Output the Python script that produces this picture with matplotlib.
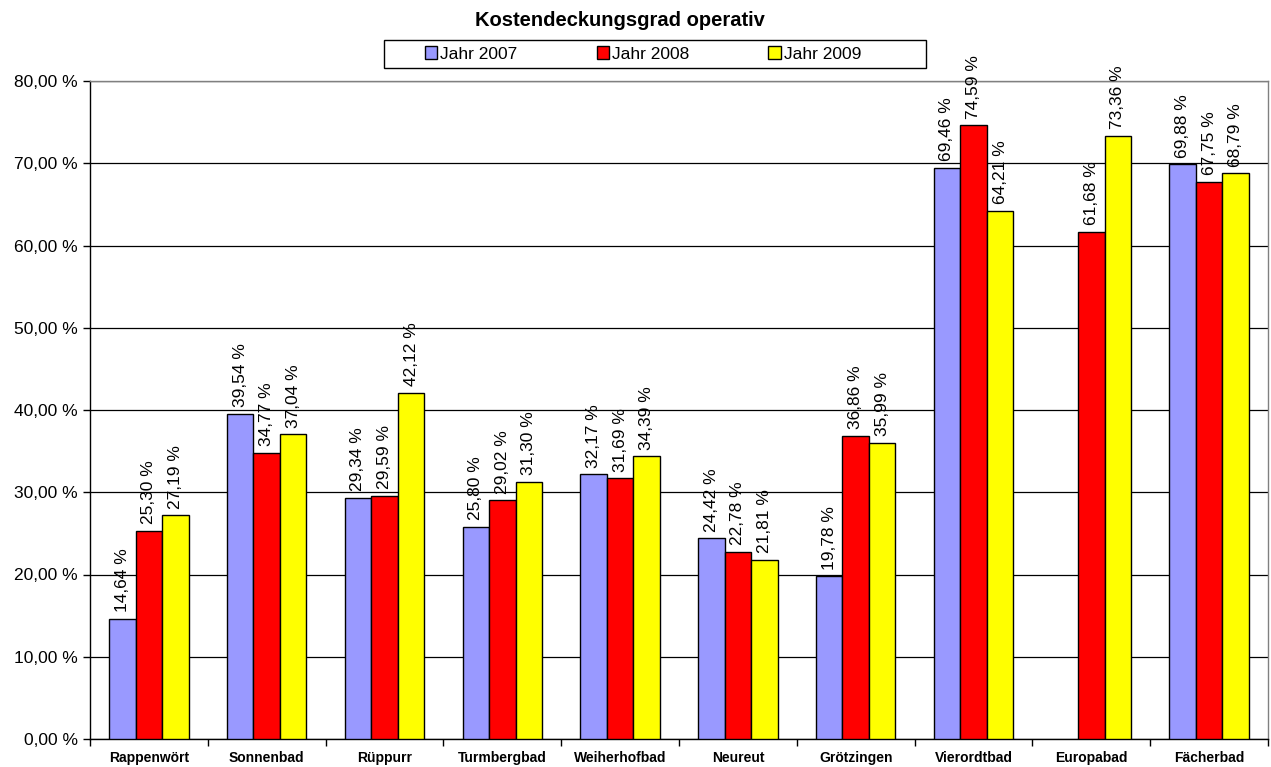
import numpy as np
import matplotlib
matplotlib.use("Agg")
import matplotlib.pyplot as plt
from matplotlib.ticker import FixedLocator
from matplotlib.patches import Rectangle

categories = ["Rappenwört", "Sonnenbad", "Rüppurr", "Turmbergbad", "Weiherhofbad",
              "Neureut", "Grötzingen", "Vierordtbad", "Europabad", "Fächerbad"]
jahr_2007 = [14.64, 39.54, 29.34, 25.80, 32.17, 24.42, 19.78, 69.46, np.nan, 69.88]
jahr_2008 = [25.30, 34.77, 29.59, 29.02, 31.69, 22.78, 36.86, 74.59, 61.68, 67.75]
jahr_2009 = [27.19, 37.04, 42.12, 31.30, 34.39, 21.81, 35.99, 64.21, 73.36, 68.79]
series = [("Jahr 2007", jahr_2007, "#9999ff"),
          ("Jahr 2008", jahr_2008, "#ff0000"),
          ("Jahr 2009", jahr_2009, "#ffff00")]

plt.rcParams['font.family'] = ['Liberation Sans', 'DejaVu Sans']

W, H = 1271, 767
fig = plt.figure(figsize=(W/100, H/100), dpi=100)
ax = fig.add_axes([90/W, 1-739/H, (1268-90)/W, (739-81)/H])

x = np.arange(len(categories))
w = 0.225
handles = []
for i, (name, vals, col) in enumerate(series):
    pos = x + (i - 1) * w
    v = np.array(vals, dtype=float)
    b = ax.bar(pos, v, width=w, color=col, edgecolor="black", linewidth=1.0,
               label=name, zorder=3)
    handles.append(b)
    for p, val in zip(pos, v):
        if np.isnan(val):
            continue
        ax.text(p, val + 0.8, f"{val:.2f} %".replace(".", ","), rotation=90,
                ha="center", va="bottom", fontsize=12.5, zorder=4)

ax.set_xlim(-0.5, len(categories) - 0.5)
ax.set_ylim(0, 80)
ticks = np.arange(0, 81, 10)
ax.set_yticks(ticks)
ax.set_yticklabels([f"{t:.2f} %".replace(".", ",") for t in ticks], fontsize=12.5)
ax.yaxis.grid(True, color="black", linewidth=0.9, zorder=0)
ax.set_axisbelow(True)

ax.set_xticks(x)
ax.set_xticklabels(categories, fontsize=10, fontweight="bold")
ax.tick_params(axis="x", length=0, pad=16.5)
for lab in ax.get_xticklabels():
    lab.set_verticalalignment("baseline")
ax.xaxis.set_minor_locator(FixedLocator(np.arange(-0.5, len(categories), 1.0)))
ax.tick_params(axis="x", which="minor", length=5, width=1, direction="out")
ax.tick_params(axis="y", length=5, width=1, direction="out", pad=4)

for s in ["left", "bottom"]:
    ax.spines[s].set_color("black")
    ax.spines[s].set_linewidth(1.0)
for s in ["top", "right"]:
    ax.spines[s].set_color("#808080")
    ax.spines[s].set_linewidth(1.0)

fig.text(620/W, 1-20/H, "Kostendeckungsgrad operativ",
         ha="center", va="center", fontsize=14.5, fontweight="bold")

fig.patches.append(Rectangle((384/W, 1-68/H), (926-384)/W, 28/H,
                             transform=fig.transFigure, facecolor="white",
                             edgecolor="black", linewidth=1.0, zorder=1))
leg = fig.legend(handles=handles, loc="center", bbox_to_anchor=(643/W, 1-54/H),
                 ncol=3, frameon=False, fontsize=12.5,
                 handlelength=0.7, handleheight=0.7, handletextpad=0.2,
                 columnspacing=4.55, borderpad=0.2)
leg.set_zorder(5)

fig.savefig("out.png", dpi=100)
